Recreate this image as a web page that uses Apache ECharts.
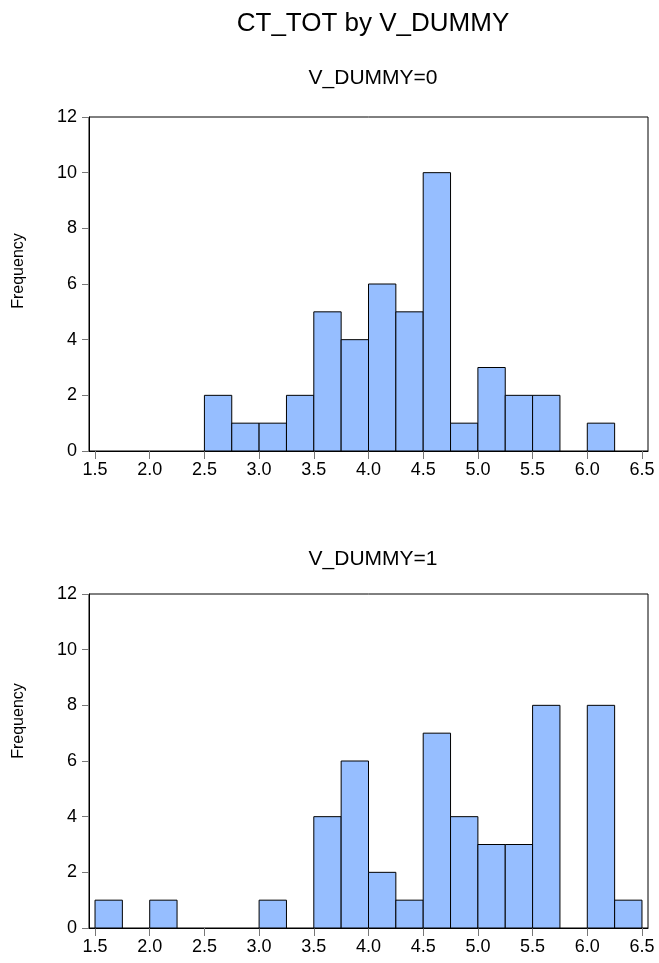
<!DOCTYPE html>
<html>
<head>
<meta charset="utf-8">
<script src="https://cdn.jsdelivr.net/npm/echarts@6/dist/echarts.min.js"></script>
<style>html,body{margin:0;padding:0;background:#fff}#c{width:659px;height:963px}</style>
</head>
<body>
<div id="c"></div>
<script>
var binWidth = 0.25;
var binStarts = [1.5,1.75,2.0,2.25,2.5,2.75,3.0,3.25,3.5,3.75,4.0,4.25,4.5,4.75,5.0,5.25,5.5,5.75,6.0,6.25];
var counts0 = [0,0,0,0,2,1,1,2,5,4,6,5,10,1,3,2,2,0,1,0];
var counts1 = [1,0,1,0,0,0,1,0,4,6,2,1,7,4,3,3,8,0,8,1];
var xTicks = [1.5,2.0,2.5,3.0,3.5,4.0,4.5,5.0,5.5,6.0,6.5];
var yTicks = [0,2,4,6,8,10,12];
var mainTitle = 'CT_TOT by V_DUMMY';
var panelTitles = ['V_DUMMY=0','V_DUMMY=1'];
var yName = 'Frequency';

var FONT = 'Liberation Sans';
var barColor = '#96BEFF';

function toData(counts){
  var d = [];
  for (var i=0;i<binStarts.length;i++){
    if (counts[i] > 0) d.push([binStarts[i], binStarts[i]+binWidth, counts[i]]);
  }
  return d;
}
function renderItem(params, api){
  var p0 = api.coord([api.value(0), api.value(2)]);
  var p1 = api.coord([api.value(1), 0]);
  return {
    type:'rect',
    shape:{x:p0[0], y:p0[1], width:p1[0]-p0[0], height:p1[1]-p0[1]},
    style:{fill:barColor, stroke:'#000', lineWidth:1}
  };
}
var grids = [
  {left:89, top:117, width:559, height:334},
  {left:89, top:594, width:559, height:334}
];
function xAxis(i){
  return {
    type:'value', gridIndex:i, min:1.445, max:6.555,
    axisLine:{show:true, lineStyle:{color:'#000', width:1}},
    axisTick:{show:true, length:8, inside:false, customValues:xTicks, lineStyle:{color:'#777'}},
    axisLabel:{show:true, margin:10, customValues:xTicks, color:'#000', fontFamily:FONT, fontSize:18,
      formatter:function(v){return v.toFixed(1);}},
    splitLine:{show:false}
  };
}
function yAxis(i){
  return {
    type:'value', gridIndex:i, min:0, max:12, interval:2,
    axisLine:{show:true, lineStyle:{color:'#000', width:1}},
    axisTick:{show:true, length:7, inside:false, lineStyle:{color:'#777'}},
    axisLabel:{show:true, margin:12, color:'#000', fontFamily:FONT, fontSize:18},
    splitLine:{show:false}
  };
}
var chart = echarts.init(document.getElementById('c'), null, {renderer:'canvas'});
chart.setOption({
  animation:false,
  backgroundColor:'#fff',
  title:[
    {text:mainTitle, left:368, top:6, textAlign:'center', textStyle:{fontFamily:FONT, fontSize:26, fontWeight:'normal', color:'#000'}},
    {text:panelTitles[0], left:368, top:63, textAlign:'center', textStyle:{fontFamily:FONT, fontSize:21, fontWeight:'normal', color:'#000'}},
    {text:panelTitles[1], left:368, top:544, textAlign:'center', textStyle:{fontFamily:FONT, fontSize:21, fontWeight:'normal', color:'#000'}}
  ],
  graphic:[
    {type:'text', x:19, y:271, rotation:Math.PI/2, style:{text:yName, fontFamily:FONT, fontSize:16, fill:'#000', align:'center', verticalAlign:'middle'}},
    {type:'text', x:19, y:721, rotation:Math.PI/2, style:{text:yName, fontFamily:FONT, fontSize:16, fill:'#000', align:'center', verticalAlign:'middle'}}
  ],
  grid:grids.map(function(g){return Object.assign({show:true, borderColor:'#000', borderWidth:1, backgroundColor:'#fff'}, g);}),
  xAxis:[xAxis(0), xAxis(1)],
  yAxis:[yAxis(0), yAxis(1)],
  series:[
    {type:'custom', xAxisIndex:0, yAxisIndex:0, renderItem:renderItem, encode:{x:[0,1], y:2}, data:toData(counts0), clip:false},
    {type:'custom', xAxisIndex:1, yAxisIndex:1, renderItem:renderItem, encode:{x:[0,1], y:2}, data:toData(counts1), clip:false}
  ]
});
</script>
</body>
</html>
